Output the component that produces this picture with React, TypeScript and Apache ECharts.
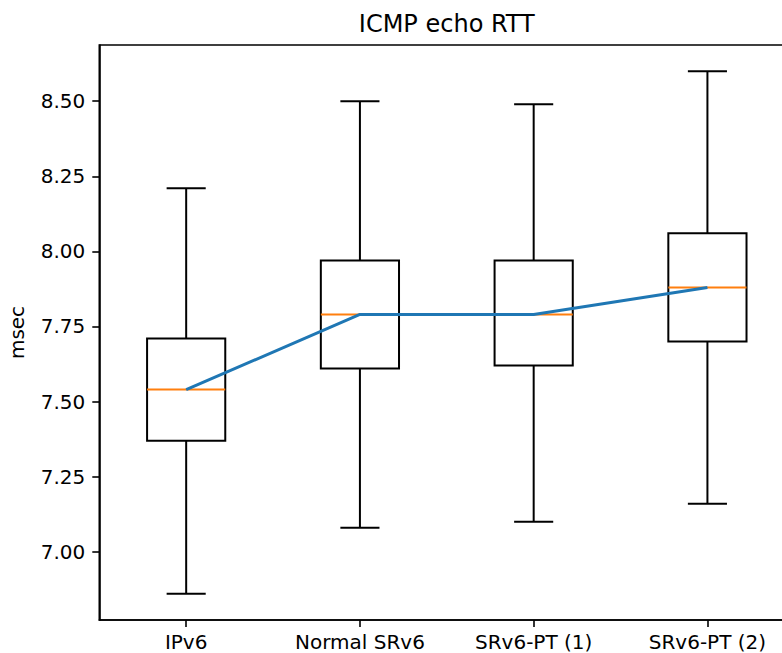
import React, { useEffect, useRef } from "react";
import * as echarts from "echarts";

const categories = ["IPv6", "Normal SRv6", "SRv6-PT (1)", "SRv6-PT (2)"];
const whiskerLow = [6.86, 7.08, 7.1, 7.16];
const q1 = [7.37, 7.61, 7.62, 7.7];
const medians = [7.54, 7.79, 7.79, 7.88];
const q3 = [7.71, 7.97, 7.97, 8.06];
const whiskerHigh = [8.21, 8.5, 8.49, 8.6];
const yTicks = [7.0, 7.25, 7.5, 7.75, 8.0, 8.25, 8.5];
const titleText = "ICMP echo RTT";
const yAxisName = "msec";

const FONT = "DejaVu Sans";

export default function App() {
  const ref = useRef<HTMLDivElement>(null);
  useEffect(() => {
    if (!ref.current) return;
    const chart = echarts.init(ref.current, null, { renderer: "svg" });
    const dmin = Math.min(...whiskerLow);
    const dmax = Math.max(...whiskerHigh);
    const pad = (dmax - dmin) * 0.05;
    const boxData = categories.map((_, i) => [i, whiskerLow[i], q1[i], medians[i], q3[i], whiskerHigh[i]]);
    const gridLeft = 99.3;
    const gridWidth = 695;
    chart.setOption({
      animation: false,
      backgroundColor: "#ffffff",
      graphic: [
        {
          type: "text",
          x: gridLeft + gridWidth / 2,
          y: 24,
          style: {
            text: titleText,
            fontFamily: FONT,
            fontSize: 24,
            fill: "#000",
            textAlign: "center",
            textVerticalAlign: "middle",
          },
        },
      ],
      grid: {
        left: gridLeft,
        top: 45,
        width: gridWidth,
        height: 575,
        outerBoundsMode: "none",
        containLabel: false,
        show: true,
        borderColor: "#000",
        borderWidth: 1.6,
        backgroundColor: "transparent",
      },
      xAxis: {
        type: "category",
        data: categories,
        boundaryGap: true,
        axisLine: { show: true, lineStyle: { color: "#000", width: 1.6 } },
        axisTick: { show: true, alignWithLabel: true, length: 7, lineStyle: { color: "#000", width: 1.6 } },
        axisLabel: { fontFamily: FONT, fontSize: 20, color: "#000", margin: 12 },
        splitLine: { show: false },
      },
      yAxis: {
        type: "value",
        min: dmin - pad,
        max: dmax + pad,
        name: yAxisName,
        nameLocation: "middle",
        nameGap: 72,
        nameTextStyle: { fontFamily: FONT, fontSize: 20, color: "#000" },
        axisLine: { show: true, lineStyle: { color: "#000", width: 1.6 } },
        axisTick: { show: true, length: 7, customValues: yTicks, lineStyle: { color: "#000", width: 1.6 } },
        axisLabel: {
          fontFamily: FONT,
          fontSize: 20,
          color: "#000",
          margin: 14,
          customValues: yTicks,
          formatter: (v: number) => v.toFixed(2),
        },
        splitLine: { show: false },
      },
      series: [
        {
          type: "custom",
          data: boxData,
          encode: { x: 0, y: [1, 2, 3, 4, 5] },
          z: 2,
          renderItem: (params: any, api: any) => {
            const idx = api.value(0);
            const band = api.size([1, 0])[0];
            const bw = band * 0.45;
            const cw = bw * 0.5;
            const pLow = api.coord([idx, api.value(1)]);
            const pQ1 = api.coord([idx, api.value(2)]);
            const pMed = api.coord([idx, api.value(3)]);
            const pQ3 = api.coord([idx, api.value(4)]);
            const pHigh = api.coord([idx, api.value(5)]);
            const x = pLow[0];
            const black = { stroke: "#000", lineWidth: 2, fill: null };
            return {
              type: "group",
              children: [
                { type: "line", shape: { x1: x, y1: pLow[1], x2: x, y2: pQ1[1] }, style: black },
                { type: "line", shape: { x1: x, y1: pQ3[1], x2: x, y2: pHigh[1] }, style: black },
                { type: "line", shape: { x1: x - cw / 2, y1: pLow[1], x2: x + cw / 2, y2: pLow[1] }, style: black },
                { type: "line", shape: { x1: x - cw / 2, y1: pHigh[1], x2: x + cw / 2, y2: pHigh[1] }, style: black },
                {
                  type: "rect",
                  shape: { x: x - bw / 2, y: pQ3[1], width: bw, height: pQ1[1] - pQ3[1] },
                  style: { stroke: "#000", lineWidth: 2, fill: "none" },
                },
                {
                  type: "line",
                  shape: { x1: x - bw / 2, y1: pMed[1], x2: x + bw / 2, y2: pMed[1] },
                  style: { stroke: "#ff7f0e", lineWidth: 2 },
                },
              ],
            };
          },
        },
        {
          type: "line",
          data: medians,
          symbol: "none",
          z: 3,
          lineStyle: { color: "#1f77b4", width: 3 },
          itemStyle: { color: "#1f77b4" },
        },
      ],
    });
    return () => chart.dispose();
  }, []);
  return (
    <div
      ref={ref}
      style={{ position: "fixed", left: 0, top: 0, width: 782, height: 653, background: "#fff" }}
    />
  );
}
